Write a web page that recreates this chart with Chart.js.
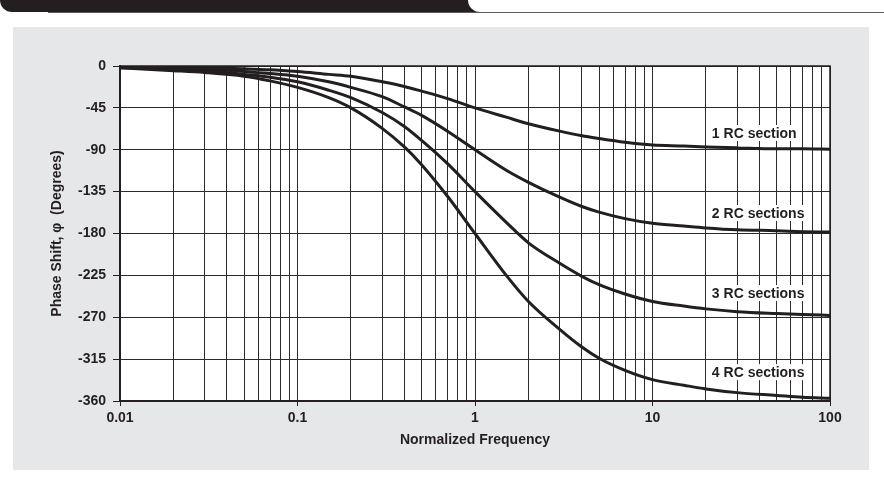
<!DOCTYPE html>
<html>
<head>
<meta charset="utf-8">
<script src="https://cdn.jsdelivr.net/npm/chart.js@4/dist/chart.umd.min.js"></script>
<style>
  html, body { margin: 0; padding: 0; background: #ffffff; }
  #wrap { position: relative; width: 884px; height: 494px; overflow: hidden; background: #ffffff; }
  #hdrBlack { position: absolute; left: 0; top: 0; width: 480px; height: 12px; background: #231f20; border-bottom-left-radius: 12px; }
  #hdrWhite { position: absolute; left: 468px; top: 0; width: 416px; height: 11.5px; background: #ffffff; border-bottom-left-radius: 12px; }
  #hdrLine { position: absolute; left: 48px; top: 11.5px; width: 836px; height: 1.5px; background: #5c5c5c; }
  #panel { position: absolute; left: 13px; top: 27px; width: 856px; height: 443px; background: #e6e7e8; }
  #c { position: absolute; left: 0; top: 0; }
</style>
</head>
<body>
<div id="wrap">
  <div id="hdrBlack"></div>
  <div id="hdrWhite"></div>
  <div id="hdrLine"></div>
  <div id="panel"></div>
  <canvas id="c" width="884" height="494"></canvas>
</div>
<script>
// ---- data ----
const freq = [0.01, 0.02, 0.03, 0.05, 0.07, 0.1, 0.15, 0.2, 0.3, 0.4, 0.5, 0.7, 1, 1.5, 2, 3, 4, 5, 7, 10, 15, 20, 30, 50, 70, 100];
const phase1 = [-1, -1, -2, -3, -4, -6, -9, -11, -17, -22, -27, -35, -45, -55, -62, -70, -75, -78, -82, -85, -86, -87, -88, -89, -89, -89.5];
const phase2 = [-1, -2, -3, -6, -8, -11, -17, -23, -33, -44, -53, -70, -90, -112, -125, -141, -151, -157, -164, -169, -172, -174, -176, -177, -178, -178.5];
const phase3 = [-2, -3, -5, -9, -12, -17, -26, -34, -50, -65, -80, -105, -135, -168, -190, -212, -226, -235, -245, -253, -258, -261, -264, -266, -267, -268];
const phase4 = [-2, -5, -7, -11, -16, -23, -34, -45, -67, -87, -106, -140, -180, -225, -253, -283, -302, -314, -327, -337, -343, -347, -351, -354, -356, -357];
const seriesNames = ['1 RC section', '2 RC sections', '3 RC sections', '4 RC sections'];
const labelFreq = [21.6, 21.6, 21.6, 21.6];
const labelPhase = [-72, -158, -244, -329];
const yTicks = [0, -45, -90, -135, -180, -225, -270, -315, -360];
const xGrid = [0.01,0.02,0.03,0.04,0.05,0.06,0.07,0.08,0.09,
               0.1,0.2,0.3,0.4,0.5,0.6,0.7,0.8,0.9,
               1,2,3,4,5,6,7,8,9,
               10,20,30,40,50,60,70,80,90,100];
const xMajor = [0.01, 0.1, 1, 10, 100];
const xMajorLabels = ['0.01', '0.1', '1', '10', '100'];

// ---- styling ----
const INK = '#231f20';
const GRID = '#2b2b2b';
const FONT = "'Liberation Sans', Arial, sans-serif";

const allPhases = [phase1, phase2, phase3, phase4];
const datasets = allPhases.map((p, i) => ({
  label: seriesNames[i],
  data: freq.map((f, k) => ({ x: f, y: p[k] })),
  borderColor: INK,
  borderWidth: 3,
  pointRadius: 0,
  fill: false,
  cubicInterpolationMode: 'monotone'
}));

const bgPlugin = {
  id: 'plotBg',
  beforeDraw(chart) {
    const { ctx, chartArea: a } = chart;
    ctx.save();
    ctx.fillStyle = '#ffffff';
    ctx.fillRect(a.left, a.top, a.right - a.left, a.bottom - a.top);
    ctx.restore();
  }
};

const framePlugin = {
  id: 'frame',
  afterDatasetsDraw(chart) {
    const { ctx, chartArea: a, scales } = chart;
    ctx.save();
    ctx.strokeStyle = INK;
    ctx.lineWidth = 1.5;
    ctx.beginPath();
    ctx.moveTo(a.left, a.top);
    ctx.lineTo(a.right, a.top);
    ctx.lineTo(a.right, a.bottom);
    ctx.stroke();
    ctx.font = "bold 14px " + FONT;
    ctx.textBaseline = 'middle';
    ctx.textAlign = 'left';
    seriesNames.forEach((name, i) => {
      const x = scales.x.getPixelForValue(labelFreq[i]);
      const y = scales.y.getPixelForValue(labelPhase[i]);
      const w = ctx.measureText(name).width;
      ctx.fillStyle = '#ffffff';
      ctx.fillRect(x - 2, y - 8, w + 4, 16);
      ctx.fillStyle = INK;
      ctx.fillText(name, x, y + 1);
    });
    ctx.restore();
  }
};

new Chart(document.getElementById('c'), {
  type: 'line',
  data: { datasets },
  plugins: [bgPlugin, framePlugin],
  options: {
    responsive: false,
    animation: false,
    devicePixelRatio: 1,
    layout: { padding: { left: 40, right: 54, top: 66, bottom: 43 } },
    plugins: { legend: { display: false }, tooltip: { enabled: false } },
    scales: {
      x: {
        type: 'logarithmic',
        min: 0.01, max: 100,
        afterBuildTicks: s => { s.ticks = xGrid.map(v => ({ value: v })); },
        afterFit: s => { s.height = 50; },
        ticks: {
          autoSkip: false, maxRotation: 0, padding: 4,
          color: INK,
          font: { family: FONT, size: 14, weight: 'bold' },
          callback: function (v) {
            const idx = xMajor.findIndex(m => Math.abs(m - v) / m < 1e-6);
            return idx >= 0 ? xMajorLabels[idx] : '';
          }
        },
        grid: {
          color: GRID, lineWidth: 1, tickLength: 5,
          tickColor: ctx => {
            const v = ctx.tick ? ctx.tick.value : null;
            return (v !== null && xMajor.some(m => Math.abs(m - v) / m < 1e-6)) ? INK : 'rgba(0,0,0,0)';
          }
        },
        border: { display: true, color: INK, width: 2 },
        title: {
          display: true, text: 'Normalized Frequency', color: INK,
          font: { family: FONT, size: 14, weight: 'bold' },
          padding: { top: 0, bottom: 2 }
        }
      },
      y: {
        min: -360, max: 0,
        afterBuildTicks: s => { s.ticks = yTicks.map(v => ({ value: v })); },
        afterFit: s => { s.width = 80; },
        ticks: {
          autoSkip: false, padding: 7, color: INK,
          font: { family: FONT, size: 14, weight: 'bold' },
          callback: v => String(v)
        },
        grid: { color: GRID, lineWidth: 1, tickLength: 7, tickColor: INK },
        border: { display: true, color: INK, width: 2 },
        title: {
          display: true, text: 'Phase Shift, \u03c6  (Degrees)', color: INK,
          font: { family: FONT, size: 14, weight: 'bold' },
          padding: { top: 9, bottom: 0 }
        }
      }
    }
  }
});
</script>
</body>
</html>
